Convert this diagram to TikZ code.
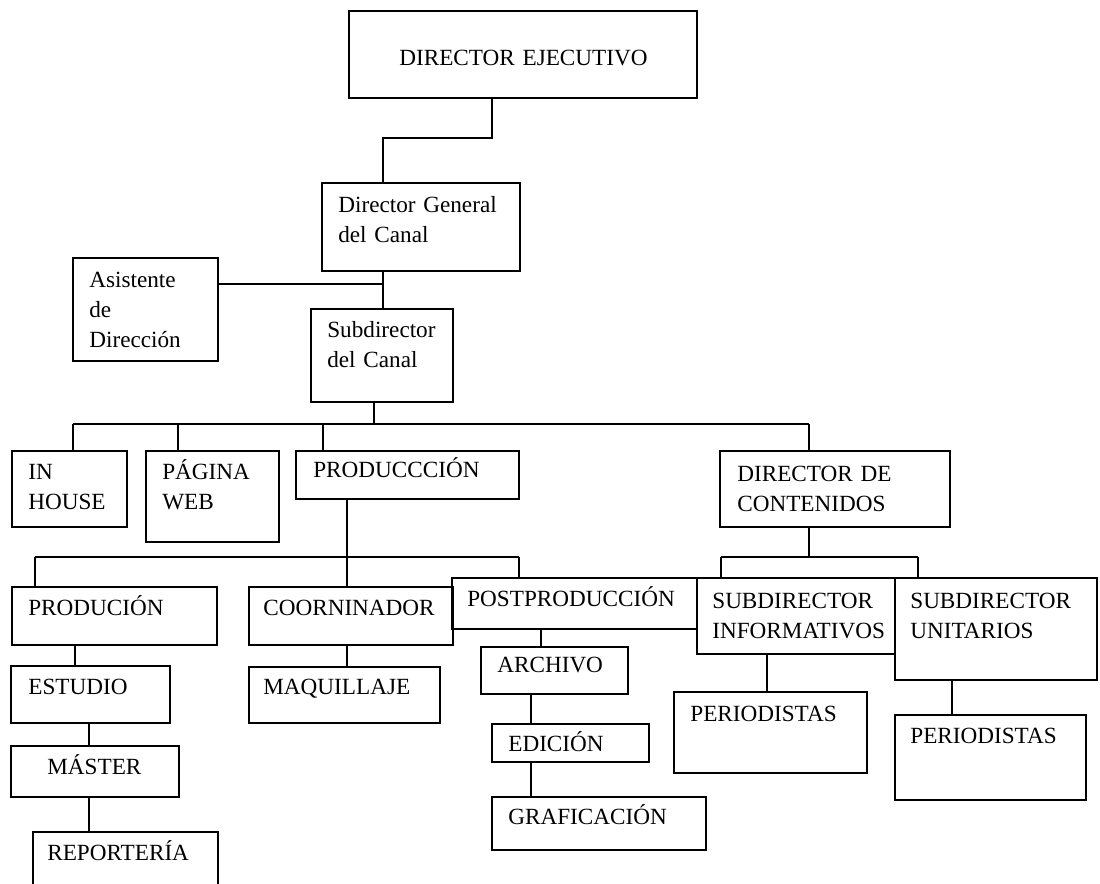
\documentclass[tikz,border=0pt]{standalone}
\usepackage{fontspec}
\setmainfont{Liberation Serif}
\usetikzlibrary{fit}

\begin{document}
\begin{tikzpicture}[x=0.02cm,y=-0.02cm,box/.style={draw=black,line width=0.8pt,inner sep=0pt},lbl/.style={anchor=base west,inner sep=0pt,text width=5cm,align=left,font=\fontsize{13.2}{17}\selectfont},wire/.style={line width=0.8pt}]
\clip (0,0) rectangle (1100,884);

% top
\node[box,fit={(349,11) (697,98)}] (de) {};
\node[lbl] (deT) at (399,66) {DIRECTOR EJECUTIVO};
\node[box,fit={(322,183) (520,271)}] (dg) {};
\node[lbl] (dgT) at (338,213) {Director General\\del Canal};
\node[box,fit={(73,258) (218,361)}] (as) {};
\node[lbl] (asT) at (89,288) {Asistente\\de\\Dirección};
\node[box,fit={(311,309) (453,402)}] (sc) {};
\node[lbl] (scT) at (327,338) {Subdirector\\del Canal};

% second row
\node[box,fit={(12,451) (127,527)}] (ih) {};
\node[lbl] (ihT) at (28,480) {IN\\HOUSE};
\node[box,fit={(146,451) (279,542)}] (pw) {};
\node[lbl] (pwT) at (162,480) {PÁGINA\\WEB};
\node[box,fit={(296,451) (519,499)}] (pr) {};
\node[lbl] (prT) at (313,478) {PRODUCCCIÓN};
\node[box,fit={(720,451) (950,527)}] (dc) {};
\node[lbl] (dcT) at (737,482) {DIRECTOR DE\\CONTENIDOS};

% third row
\node[box,fit={(12,587) (217,645)}] (pd) {};
\node[lbl] (pdT) at (28,616) {PRODUCIÓN};
\node[box,fit={(249,587) (453,645)}] (co) {};
\node[lbl] (coT) at (263,616) {COORNINADOR};
\node[box,fit={(452,578) (697,629)}] (po) {};
\node[lbl] (poT) at (467,607) {POSTPRODUCCIÓN};
\node[box,fit={(697,578) (895,654)}] (si) {};
\node[lbl] (siT) at (712,609) {SUBDIRECTOR\\INFORMATIVOS};
\node[box,fit={(895,578) (1097,680)}] (su) {};
\node[lbl] (suT) at (910,609) {SUBDIRECTOR\\UNITARIOS};

% lower boxes
\node[box,fit={(11,666) (170,723)}] (es) {};
\node[lbl] (esT) at (28,695) {ESTUDIO};
\node[box,fit={(11,746) (179,797)}] (ms) {};
\node[lbl] (msT) at (47,775) {MÁSTER};
\node[box,fit={(33,832) (218,895)}] (rp) {};
\node[lbl] (rpT) at (47,861) {REPORTERÍA};
\node[box,fit={(249,667) (440,723)}] (mq) {};
\node[lbl] (mqT) at (263,695) {MAQUILLAJE};
\node[box,fit={(481,647) (628,694)}] (ar) {};
\node[lbl] (arT) at (497,673) {ARCHIVO};
\node[box,fit={(492,724) (649,762)}] (ed) {};
\node[lbl] (edT) at (508,752) {EDICIÓN};
\node[box,fit={(492,797) (706,850)}] (gr) {};
\node[lbl] (grT) at (508,825) {GRAFICACIÓN};
\node[box,fit={(674,692) (867,773)}] (pa) {};
\node[lbl] (paT) at (690,722) {PERIODISTAS};
\node[box,fit={(895,715) (1086,800)}] (pb) {};
\node[lbl] (pbT) at (910,744) {PERIODISTAS};

% bends and buses
\coordinate (b1) at (492,138);
\coordinate (b2) at (383,138);
\coordinate (b3) at (383,284);
\coordinate (c0) at (374,424);
\coordinate (c1) at (73,424);
\coordinate (c2) at (809,424);
\coordinate (c3) at (178,424);
\coordinate (c4) at (323,424);
\coordinate (d0) at (347,557);
\coordinate (d1) at (35,557);
\coordinate (d2) at (519,557);
\coordinate (e0) at (809,557);
\coordinate (e1) at (721,557);
\coordinate (e2) at (918,557);
\coordinate (k1) at (541,0);
\coordinate (k2) at (531,0);
\coordinate (k3) at (767,0);
\coordinate (k4) at (952,0);
\coordinate (k5) at (75,0);
\coordinate (k6) at (89,0);

\draw[wire] (de.south -| b1) |- (b2) -- (dg.north -| b2);
\draw[wire] (dg.south -| b2) -- (sc.north -| b2);
\draw[wire] (as.east |- b3) -- (b3);

\draw[wire] (sc.south -| c0) -- (c0);
\draw[wire] (c1) -- (c2);
\draw[wire] (c1) -- (ih.north -| c1);
\draw[wire] (c3) -- (pw.north -| c3);
\draw[wire] (c4) -- (pr.north -| c4);
\draw[wire] (c2) -- (dc.north -| c2);

\draw[wire] (pr.south -| d0) -- (co.north -| d0);
\draw[wire] (d1) -- (d2);
\draw[wire] (d1) -- (pd.north -| d1);
\draw[wire] (d2) -- (po.north -| d2);
\draw[wire] (co.south -| d0) -- (mq.north -| d0);

\draw[wire] (dc.south -| e0) -- (e0);
\draw[wire] (e1) -- (e2);
\draw[wire] (e1) -- (si.north -| e1);
\draw[wire] (e2) -- (su.north -| e2);

\draw[wire] (po.south -| k1) -- (ar.north -| k1);
\draw[wire] (ar.south -| k2) -- (ed.north -| k2);
\draw[wire] (ed.south -| k2) -- (gr.north -| k2);
\draw[wire] (si.south -| k3) -- (pa.north -| k3);
\draw[wire] (su.south -| k4) -- (pb.north -| k4);
\draw[wire] (pd.south -| k5) -- (es.north -| k5);
\draw[wire] (es.south -| k6) -- (ms.north -| k6);
\draw[wire] (ms.south -| k6) -- (rp.north -| k6);
\end{tikzpicture}
\end{document}
